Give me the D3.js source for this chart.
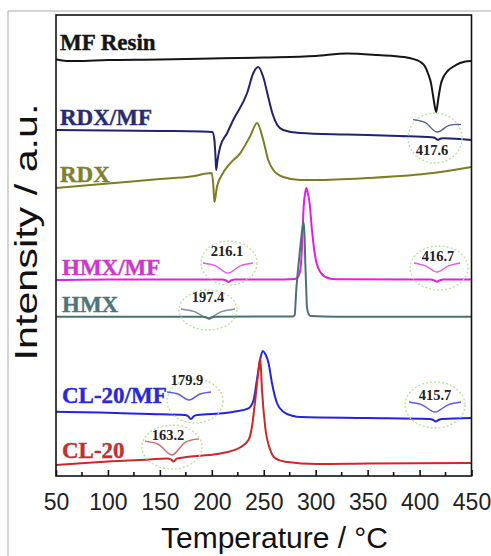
<!DOCTYPE html>
<html>
<head>
<meta charset="utf-8">
<script src="https://cdn.jsdelivr.net/npm/d3@7"></script>
<style>
  body { margin: 0; background: #fff; }
  svg { display: block; }
</style>
</head>
<body>
<div id="chart"></div>
<script>
// DSC traces, [temperature in °C, intensity in a.u. (curves are already offset)]
const mfResin = [[50, 416.7], [60, 415], [70, 415], [100, 416], [150, 416.5], [200, 417.5], [250, 418.5],
  [300, 420], [330, 422.5], [360, 421], [385, 419], [401, 414], [405, 410], [408, 403], [411, 393],
  [413.5, 377], [416, 364], [418, 377], [420.5, 392], [423, 399], [427, 405], [432, 409], [439, 413], [449, 415], [450, 415]];

const rdxMf = [[50, 346], [100, 345.5], [150, 345], [190, 344.5], [200.5, 344], [202.5, 336], [203.5, 320],
  [204.2, 306], [205.5, 316], [208, 329], [214.8, 343], [220.6, 356], [234, 383], [240, 403], [244.7, 409],
  [249.5, 399], [254.3, 379], [258.2, 363], [263, 351], [268.8, 346], [285, 343], [330, 341.5], [380, 340],
  [411.6, 338.8], [414.6, 338.2], [417.6, 336.2], [420.6, 337.6], [423.6, 337.8], [450, 336]];

const rdx = [[50, 288], [100, 292.5], [150, 297], [180, 299.5], [200, 303], [201.5, 290], [202.5, 274],
  [204.9, 289], [209.7, 301], [217.7, 312.7], [227.3, 322.7], [237, 340], [243.5, 353], [249.5, 336],
  [254.3, 316], [259.2, 306], [268.8, 299], [285, 296], [300, 296], [350, 298], [413, 303], [450, 309]];

const hmxMf = [[50, 196], [100, 196.5], [200, 196.5], [210.1, 196.5], [213.1, 195.8], [216.1, 194],
  [219.1, 195.8], [222.1, 196.5], [260, 196.5], [280, 197], [282.5, 198.5], [285.2, 206], [286.8, 229],
  [288.4, 269], [290, 284], [291, 288], [292.2, 284], [294.1, 273], [296.4, 246], [299.6, 219], [304.5, 204],
  [310.9, 198.3], [320.5, 196.7], [400, 196.5], [410.7, 196.5], [413.7, 195.8], [416.7, 194.3],
  [419.7, 195.8], [422.7, 196.5], [450, 196.5]];

const hmx = [[50, 159.3], [100, 159.3], [185, 159.3], [191.4, 159.3], [194.4, 158.7], [197.4, 157.3],
  [200.4, 158.7], [203.4, 159.3], [278, 159.5], [279.8, 161], [281.3, 186], [283.5, 212], [285.2, 229],
  [287, 246], [288.4, 254], [289.3, 240], [290, 213], [290.8, 190], [291.6, 169], [293, 162.5], [295, 160],
  [320, 159.3], [450, 159.3]];

const cl20Mf = [[50, 64.3], [92, 63.5], [140, 62], [173.9, 61], [176.9, 60], [179.9, 57], [182.9, 60],
  [185.9, 61], [213, 63], [222.5, 64.5], [235.3, 67.7], [240.2, 76], [243.4, 96], [246.5, 116], [249, 125],
  [251.5, 122], [254.6, 113], [257.9, 93], [262.7, 73], [268.8, 64.3], [278.4, 60], [285.2, 59], [350, 58],
  [409.7, 57], [412.7, 56.3], [415.7, 54.5], [418.7, 56.3], [421.7, 57], [450, 58]];

const cl20 = [[50, 11], [92, 14], [140, 16.5], [157.2, 17.5], [160.2, 16.8], [163.2, 14.5], [166.2, 17.3],
  [169.2, 18], [205, 22], [213, 23.5], [227, 28.5], [235.3, 36], [238.6, 49], [241.8, 76], [245, 106],
  [246.6, 118], [248.3, 86], [251.4, 49], [256.3, 26], [261.1, 17.7], [270.7, 14.3], [301.6, 12],
  [350, 12.5], [446, 13], [450, 13]];

const seriesNames = ['MF Resin', 'RDX/MF', 'RDX', 'HMX/MF', 'HMX', 'CL-20/MF', 'CL-20'];
const seriesData = [mfResin, rdxMf, rdx, hmxMf, hmx, cl20Mf, cl20];

// magnified dips: which curve, temperature of the dip
const dipSeries = ['RDX/MF', 'HMX/MF', 'HMX', 'HMX/MF', 'CL-20/MF', 'CL-20', 'CL-20/MF'];
const dipTemps = [417.6, 216.1, 197.4, 416.7, 179.9, 163.2, 415.7];

const xTicks = [50, 100, 150, 200, 250, 300, 350, 400, 450];
const xMinorTicks = [75, 125, 175, 225, 275, 325, 375, 425];

// ---- layout / styles ----
const W = 491, H = 556;
const plot = { left: 56, right: 471.5, top: 15, bottom: 476 };
const colors = {
  'MF Resin': '#151515', 'RDX/MF': '#22226e', 'RDX': '#7d7d24', 'HMX/MF': '#e020e0',
  'HMX': '#4a7272', 'CL-20/MF': '#2424dc', 'CL-20': '#c82a2a'
};
const labelColors = {
  'MF Resin': '#151515', 'RDX/MF': '#2a2a72', 'RDX': '#80802e', 'HMX/MF': '#cc38cc',
  'HMX': '#4e7676', 'CL-20/MF': '#2a2ad2', 'CL-20': '#c43030'
};
const labelPos = {
  'MF Resin': [60, 50], 'RDX/MF': [60, 125], 'RDX': [60, 182], 'HMX/MF': [62, 275],
  'HMX': [62, 312], 'CL-20/MF': [62, 403], 'CL-20': [62, 458]
};
// inset placement: vertex point, half width, arm rise, text anchor, circle
const insetLayout = [
  { vx: 437, vy: 132, hw: 24, rise: 10, tx: 432, ty: 155, cx: 435, cy: 138, rx: 27, ry: 25 },
  { vx: 228, vy: 273, hw: 25, rise: 10, tx: 227, ty: 256, cx: 229, cy: 263, rx: 28, ry: 22 },
  { vx: 208, vy: 318, hw: 27, rise: 9, tx: 208, ty: 302, cx: 208, cy: 310, rx: 29, ry: 20 },
  { vx: 437, vy: 272, hw: 23, rise: 9, tx: 438, ty: 261, cx: 439, cy: 268, rx: 29, ry: 22 },
  { vx: 189, vy: 400, hw: 22, rise: 8, tx: 187, ty: 385, cx: 195, cy: 401, rx: 28, ry: 22 },
  { vx: 172, vy: 455, hw: 27, rise: 15, tx: 168, ty: 440, cx: 172, cy: 447, rx: 30, ry: 22 },
  { vx: 435, vy: 412, hw: 26, rise: 10, tx: 435, ty: 400, cx: 435, cy: 405, rx: 30, ry: 23 }
];

const svg = d3.select('#chart').append('svg')
  .attr('width', W).attr('height', H);

// faint outer frame of the figure
svg.append('path')
  .attr('d', `M8,${H} L8,11 L${W},11`)
  .attr('fill', 'none').attr('stroke', '#aaa').attr('stroke-width', 1);

const x = d3.scaleLinear().domain([50, 450]).range([plot.left, plot.right]);
const y = d3.scaleLinear().domain([0, 461]).range([plot.bottom, plot.top]);

const line = d3.line()
  .x((d) => x(d[0]))
  .y((d) => y(d[1]))
  .curve(d3.curveMonotoneX);

// curves
seriesNames.forEach((name, i) => {
  svg.append('path')
    .datum(seriesData[i])
    .attr('fill', 'none')
    .attr('stroke', colors[name])
    .attr('stroke-width', 2)
    .attr('stroke-linejoin', 'round')
    .attr('d', line);
});

// series labels
seriesNames.forEach((name) => {
  svg.append('text')
    .attr('x', labelPos[name][0])
    .attr('y', labelPos[name][1])
    .attr('font-family', '"Liberation Serif", "Times New Roman", serif')
    .attr('font-weight', 'bold')
    .attr('font-size', 23)
    .attr('fill', labelColors[name])
    .attr('stroke', labelColors[name])
    .attr('stroke-width', 0.4)
    .text(name);
});

// magnified dips inside dashed circles
dipTemps.forEach((t, i) => {
  const lay = insetLayout[i];
  const name = dipSeries[i];
  const pts = seriesData[seriesNames.indexOf(name)].filter((d) => Math.abs(d[0] - t) <= 6.5);
  const vMin = d3.min(pts, (d) => d[1]);
  const vEnd = (pts[0][1] + pts[pts.length - 1][1]) / 2;
  const ix = d3.scaleLinear().domain([t - 6, t + 6]).range([lay.vx - lay.hw, lay.vx + lay.hw]);
  const iy = d3.scaleLinear().domain([vMin, vEnd]).range([lay.vy, lay.vy - lay.rise]);

  svg.append('ellipse')
    .attr('cx', lay.cx).attr('cy', lay.cy)
    .attr('rx', lay.rx).attr('ry', lay.ry)
    .attr('fill', 'none')
    .attr('stroke', '#b4e29a')
    .attr('stroke-width', 1.3)
    .attr('stroke-dasharray', '2,2');

  svg.append('path')
    .datum(pts)
    .attr('fill', 'none')
    .attr('stroke', colors[name])
    .attr('stroke-opacity', 0.75)
    .attr('stroke-width', 1.4)
    .attr('d', d3.line().x((d) => ix(d[0])).y((d) => iy(d[1])).curve(d3.curveCatmullRom));

  svg.append('text')
    .attr('x', lay.tx).attr('y', lay.ty)
    .attr('text-anchor', 'middle')
    .attr('font-family', '"Liberation Serif", "Times New Roman", serif')
    .attr('font-weight', 'bold')
    .attr('font-size', 14.5)
    .attr('fill', '#222')
    .text(t.toFixed(1));
});

// frame
svg.append('rect')
  .attr('x', plot.left).attr('y', plot.top)
  .attr('width', plot.right - plot.left).attr('height', plot.bottom - plot.top)
  .attr('fill', 'none').attr('stroke', '#111').attr('stroke-width', 1.6);

// x axis, ticks pointing inward
const xAxis = svg.append('g')
  .attr('transform', `translate(0,${plot.bottom})`)
  .call(d3.axisBottom(x).tickValues(xTicks).tickSizeInner(-6).tickSizeOuter(0).tickFormat(d3.format('d')));
xAxis.select('.domain').remove();
xAxis.selectAll('line').attr('stroke', '#111').attr('stroke-width', 1.6);
xAxis.selectAll('text')
  .attr('y', 18)
  .attr('font-family', '"Liberation Sans", Arial, sans-serif')
  .attr('font-size', 23)
  .attr('fill', '#222');

svg.append('g')
  .selectAll('line')
  .data(xMinorTicks)
  .join('line')
  .attr('x1', (d) => x(d)).attr('x2', (d) => x(d))
  .attr('y1', plot.bottom).attr('y2', plot.bottom - 4)
  .attr('stroke', '#111').attr('stroke-width', 1.6);

// axis titles
svg.append('text')
  .attr('x', 274.5).attr('y', 548)
  .attr('text-anchor', 'middle')
  .attr('font-family', '"Liberation Sans", Arial, sans-serif')
  .attr('font-size', 30)
  .attr('fill', '#111')
  .text('Temperature / °C');

svg.append('text')
  .attr('transform', 'translate(37,232) rotate(-90)')
  .attr('text-anchor', 'middle')
  .attr('font-family', '"Liberation Sans", Arial, sans-serif')
  .attr('font-size', 32)
  .attr('fill', '#111')
  .attr('textLength', 257)
  .attr('lengthAdjust', 'spacingAndGlyphs')
  .text('Intensity / a.u.');
</script>
</body>
</html>
